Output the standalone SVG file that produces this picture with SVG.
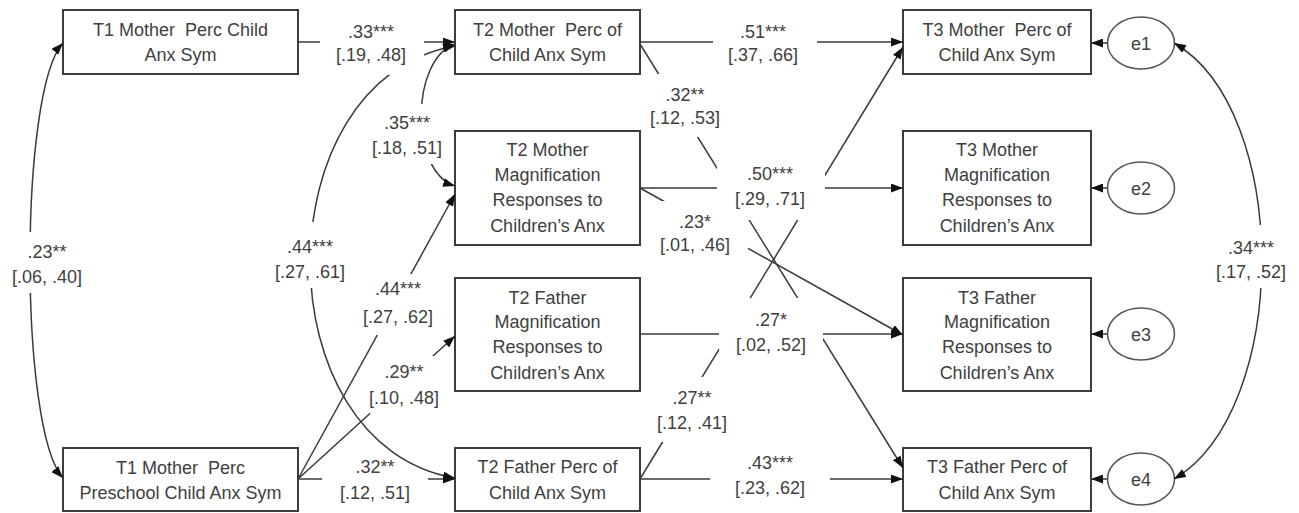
<svg xmlns="http://www.w3.org/2000/svg" width="1299" height="513" viewBox="0 0 1299 513">
<style>
.box{fill:#fff;stroke:#3c3c3c;stroke-width:2}
.ell{fill:#fff;stroke:#555;stroke-width:1.5}
.t{font-family:"Liberation Sans",Arial,sans-serif;font-size:18px;fill:#404040;text-anchor:middle;white-space:pre}
.ln{fill:none;stroke:#3a3a3a;stroke-width:1.5}
.arr{marker-end:url(#ah)}
.bi{marker-start:url(#ah);marker-end:url(#ah)}
.bg{fill:#fff;stroke:none}
</style>
<defs>
<marker id="ah" viewBox="0 0 12 9" refX="12" refY="4.5" markerWidth="12" markerHeight="9" markerUnits="userSpaceOnUse" orient="auto-start-reverse">
<path d="M0,0 L12,4.5 L0,9 z" fill="#111"/>
</marker>
</defs>
<rect width="1299" height="513" fill="#fff"/>

<g id="n_t1_mom_child">
<rect class="box" x="63" y="10" width="235" height="64"/>
<text class="t" x="180.5" y="36">T1 Mother  Perc Child</text>
<text class="t" x="180.5" y="61">Anx Sym</text>
</g>
<g id="n_t1_mom_preschool">
<rect class="box" x="63" y="448" width="235" height="63"/>
<text class="t" x="180.5" y="474">T1 Mother  Perc</text>
<text class="t" x="180.5" y="499">Preschool Child Anx Sym</text>
</g>
<g id="n_t2_mom_perc">
<rect class="box" x="455" y="10" width="185" height="64"/>
<text class="t" x="547.5" y="36">T2 Mother  Perc of</text>
<text class="t" x="547.5" y="61">Child Anx Sym</text>
</g>
<g id="n_t2_mom_mag">
<rect class="box" x="455" y="131" width="185" height="114"/>
<text class="t" x="547.5" y="156">T2 Mother</text>
<text class="t" x="547.5" y="181">Magnification</text>
<text class="t" x="547.5" y="206">Responses to</text>
<text class="t" x="547.5" y="232">Children’s Anx</text>
</g>
<g id="n_t2_dad_mag">
<rect class="box" x="455" y="278" width="185" height="113"/>
<text class="t" x="547.5" y="304">T2 Father</text>
<text class="t" x="547.5" y="328">Magnification</text>
<text class="t" x="547.5" y="353">Responses to</text>
<text class="t" x="547.5" y="379">Children’s Anx</text>
</g>
<g id="n_t2_dad_perc">
<rect class="box" x="455" y="448" width="185" height="63"/>
<text class="t" x="547.5" y="473">T2 Father Perc of</text>
<text class="t" x="547.5" y="499">Child Anx Sym</text>
</g>
<g id="n_t3_mom_perc">
<rect class="box" x="903" y="10" width="188" height="64"/>
<text class="t" x="997" y="36">T3 Mother  Perc of</text>
<text class="t" x="997" y="61">Child Anx Sym</text>
</g>
<g id="n_t3_mom_mag">
<rect class="box" x="903" y="131" width="188" height="114"/>
<text class="t" x="997" y="156">T3 Mother</text>
<text class="t" x="997" y="181">Magnification</text>
<text class="t" x="997" y="206">Responses to</text>
<text class="t" x="997" y="232">Children’s Anx</text>
</g>
<g id="n_t3_dad_mag">
<rect class="box" x="903" y="278" width="188" height="113"/>
<text class="t" x="997" y="304">T3 Father</text>
<text class="t" x="997" y="328">Magnification</text>
<text class="t" x="997" y="353">Responses to</text>
<text class="t" x="997" y="379">Children’s Anx</text>
</g>
<g id="n_t3_dad_perc">
<rect class="box" x="903" y="448" width="188" height="63"/>
<text class="t" x="997" y="473">T3 Father Perc of</text>
<text class="t" x="997" y="499">Child Anx Sym</text>
</g>
<g id="n_e1">
<ellipse class="ell" cx="1141" cy="43" rx="33.5" ry="26"/>
<text class="t" x="1141" y="49.5">e1</text>
</g>
<g id="n_e2">
<ellipse class="ell" cx="1141" cy="188" rx="33.5" ry="26"/>
<text class="t" x="1141" y="194.5">e2</text>
</g>
<g id="n_e3">
<ellipse class="ell" cx="1141" cy="334" rx="33.5" ry="26"/>
<text class="t" x="1141" y="340.5">e3</text>
</g>
<g id="n_e4">
<ellipse class="ell" cx="1141" cy="479" rx="33.5" ry="26"/>
<text class="t" x="1141" y="485.5">e4</text>
</g>

<g id="connectors">
<path class="ln arr" d="M298,42 L455,42"/>
<path class="ln arr" d="M640,42 L903,42"/>
<path class="ln arr" d="M640,44 L903,468"/>
<path class="ln arr" d="M640,188 L903,188"/>
<path class="ln arr" d="M640,479 L903,47"/>
<path class="ln arr" d="M640,188 L903,335"/>
<path class="ln arr" d="M640,334 L903,334"/>
<path class="ln arr" d="M640,479 L903,479"/>
<path class="ln arr" d="M298,479 L455,479"/>
<path class="ln arr" d="M298,479 L455,194"/>
<path class="ln arr" d="M298,479 L455,336"/>
<path class="ln bi" d="M63,43 C19,90 19,430 63,478"/>
<path class="ln bi" d="M1174,43 C1291,110 1291,410 1174,479"/>
<path class="ln bi" d="M455,46 C262,80 262,445 455,478"/>
<path class="ln bi" d="M455,44 C410,60 410,172 455,186"/>
<path class="ln arr" d="M1107.5,43 L1091,43"/>
<path class="ln arr" d="M1107.5,188 L1091,188"/>
<path class="ln arr" d="M1107.5,334 L1091,334"/>
<path class="ln arr" d="M1107.5,479 L1091,479"/>
</g>

<g id="label-masks">
<rect class="bg" x="320" y="20" width="104" height="55"/>
<rect class="bg" x="713" y="20" width="104" height="50"/>
<rect class="bg" x="645" y="74" width="83" height="63"/>
<rect class="bg" x="717" y="160" width="108" height="60"/>
<rect class="bg" x="650" y="201" width="98" height="57"/>
<rect class="bg" x="719" y="298" width="104" height="52"/>
<rect class="bg" x="650" y="377" width="85" height="65"/>
<rect class="bg" x="710" y="450" width="120" height="50"/>
<rect class="bg" x="322" y="474" width="106" height="11"/>
<rect class="bg" x="270" y="222" width="80" height="66"/>
<rect class="bg" x="355" y="274" width="87" height="61"/>
<rect class="bg" x="370" y="356" width="76" height="58"/>
<rect class="bg" x="368" y="104" width="78" height="60"/>
<rect class="bg" x="5" y="232" width="85" height="61"/>
<rect class="bg" x="1212" y="225" width="80" height="63"/>
</g>
<g id="labels">
<text class="t" x="371" y="38">.33***</text><text class="t" x="371" y="61">[.19, .48]</text>
<text class="t" x="763" y="38">.51***</text><text class="t" x="763" y="61">[.37, .66]</text>
<text class="t" x="685" y="101">.32**</text><text class="t" x="685" y="124">[.12, .53]</text>
<text class="t" x="770" y="180">.50***</text><text class="t" x="770" y="205">[.29, .71]</text>
<text class="t" x="695" y="228">.23*</text><text class="t" x="695" y="251">[.01, .46]</text>
<text class="t" x="771" y="326">.27*</text><text class="t" x="771" y="351">[.02, .52]</text>
<text class="t" x="692" y="404">.27**</text><text class="t" x="692" y="429">[.12, .41]</text>
<text class="t" x="770" y="469">.43***</text><text class="t" x="770" y="494">[.23, .62]</text>
<text class="t" x="375" y="473">.32**</text><text class="t" x="375" y="499">[.12, .51]</text>
<text class="t" x="310" y="253">.44***</text><text class="t" x="310" y="278">[.27, .61]</text>
<text class="t" x="398" y="295">.44***</text><text class="t" x="398" y="323">[.27, .62]</text>
<text class="t" x="404" y="378">.29**</text><text class="t" x="404" y="404">[.10, .48]</text>
<text class="t" x="407" y="129">.35***</text><text class="t" x="407" y="154">[.18, .51]</text>
<text class="t" x="47" y="258">.23**</text><text class="t" x="47" y="283">[.06, .40]</text>
<text class="t" x="1251" y="254">.34***</text><text class="t" x="1251" y="278">[.17, .52]</text>
</g>
</svg>
